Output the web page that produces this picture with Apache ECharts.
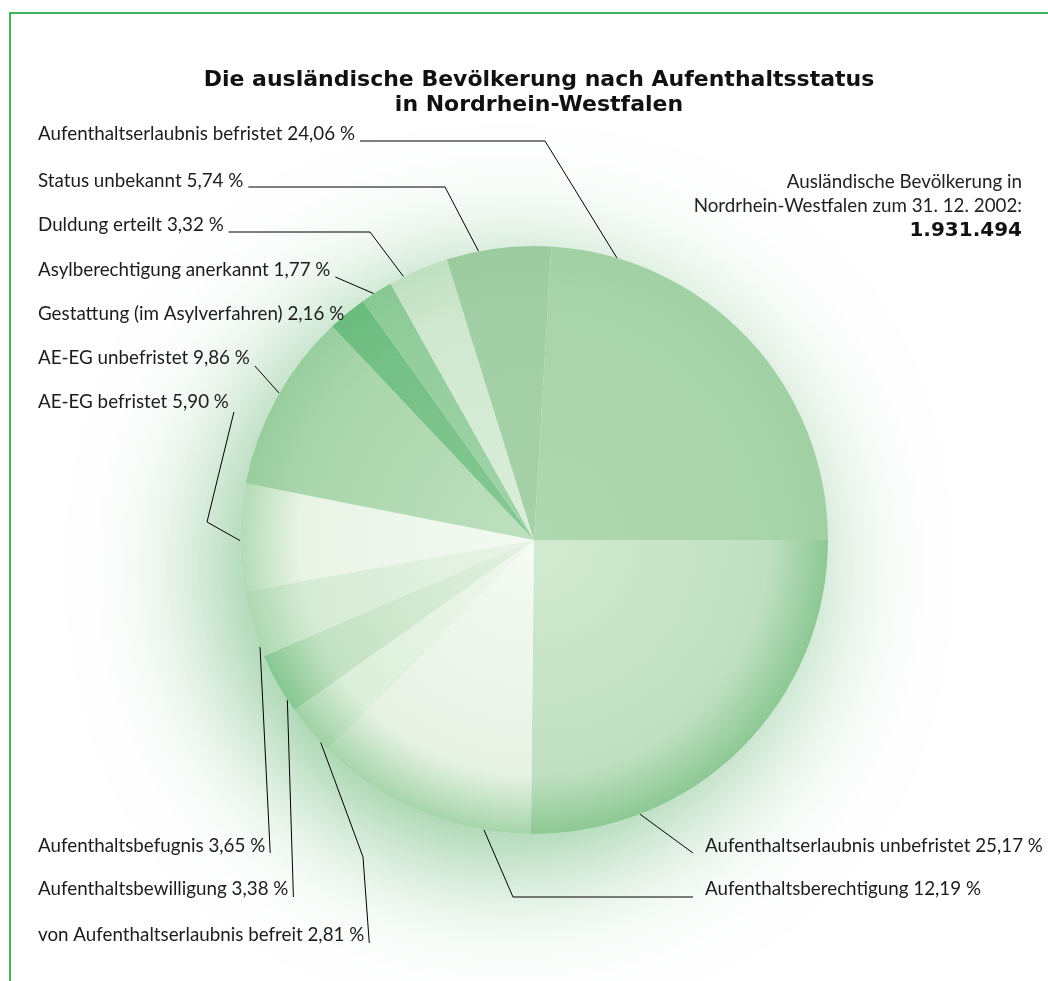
<!DOCTYPE html>
<html><head><meta charset="utf-8">
<script src="https://cdn.jsdelivr.net/npm/echarts@6/dist/echarts.min.js"></script>
<style>html,body{margin:0;padding:0;background:#fff}#c{width:1048px;height:981px}</style>
</head><body><div id="c"></div>
<script>
// ---- data ----
const categories = [
  'Aufenthaltserlaubnis unbefristet',
  'Aufenthaltsberechtigung',
  'von Aufenthaltserlaubnis befreit',
  'Aufenthaltsbewilligung',
  'Aufenthaltsbefugnis',
  'AE-EG befristet',
  'AE-EG unbefristet',
  'Gestattung (im Asylverfahren)',
  'Asylberechtigung anerkannt',
  'Duldung erteilt',
  'Status unbekannt',
  'Aufenthaltserlaubnis befristet'
];
const values = [25.17, 12.19, 2.81, 3.38, 3.65, 5.90, 9.86, 2.16, 1.77, 3.32, 5.74, 24.06];
const valueLabels = ['25,17 %','12,19 %','2,81 %','3,38 %','3,65 %','5,90 %','9,86 %','2,16 %','1,77 %','3,32 %','5,74 %','24,06 %'];
const titleLines = ['Die ausländische Bevölkerung nach Aufenthaltsstatus', 'in Nordrhein-Westfalen'];
const noteLines = ['Ausländische Bevölkerung in', 'Nordrhein-Westfalen zum 31. 12. 2002:'];
const noteTotal = '1.931.494';

// ---- styles / layout ----
const CX = 534, CY = 540, R = 294;
const sliceColors = [
  ['#d2ead1', '#c0e0c1', '#8dc894'],
  ['#f6fbf4', '#e6f2e4', '#a6d5aa'],
  ['#f0f8ee', '#dcefda', '#9fd1a4'],
  ['#e4f2e2', '#c3e2c3', '#86c791'],
  ['#eaf5e8', '#d6ebd5', '#acd8b0'],
  ['#f4faf2', '#e8f4e6', '#b4dbb6'],
  ['#bfe0bf', '#a9d6ab', '#98cd9e'],
  ['#86c894', '#74c086', '#6abb7e'],
  ['#a2d4a9', '#92cd9c', '#88c893'],
  ['#dbeeda', '#cfe7cf', '#c0e0c1'],
  ['#a6d1a8', '#a1cea4', '#9ccb9f'],
  ['#aed8b0', '#a8d4aa', '#a1d0a4']
];
// label placement: x,y = text anchor (left / middle); dy = leader line level; t = position inside slice for leader end
const labelPlace = [
  {x: 705, y: 846, side: 'R', dy: 7, t: 0.76, elbow: null},
  {x: 705, y: 889, side: 'R', dy: 8, t: 0.21, elbow: [513, 897]},
  {x: 38, y: 935, side: 'L', dy: 8, t: 0.2, elbow: [363, 857]},
  {x: 38, y: 889, side: 'L', dy: 8, t: 0.2, elbow: null},
  {x: 38, y: 846, side: 'L', dy: 7, t: 0.15, elbow: null},
  {x: 38, y: 402, side: 'L', dy: 10, t: 0.47, elbow: [207, 522]},
  {x: 38, y: 358, side: 'L', dy: 8, t: 0.53, elbow: null},
  {x: 38, y: 314, side: 'L', dy: 6, t: 0.4, elbow: null},
  {x: 38, y: 270, side: 'L', dy: 7, t: 0.4, elbow: null},
  {x: 38, y: 225, side: 'L', dy: 7, t: 0.24, elbow: [370, 232]},
  {x: 38, y: 181, side: 'L', dy: 6, t: 0.31, elbow: [445, 187]},
  {x: 38, y: 134, side: 'L', dy: 7, t: 0.15, elbow: [545, 141]}
];
const FONT = 'Lato';
const FS = 18.8;
const TFONT = '"DejaVu Sans"';

const total = values.reduce((a, b) => a + b, 0);
const cumBefore = values.map((v, i) => values.slice(0, i).reduce((a, b) => a + b, 0));

function edgePoint(i) {
  const frac = (cumBefore[i] + labelPlace[i].t * values[i]) / total;
  const a = frac * 2 * Math.PI; // clockwise from 3 o'clock
  return [CX + R * Math.cos(a), CY + R * Math.sin(a)];
}

const pieData = categories.map((c, i) => ({
  name: c,
  value: values[i],
  itemStyle: {
    color: {
      type: 'radial', x: CX, y: CY, r: R, global: true,
      colorStops: [
        {offset: 0, color: sliceColors[i][0]},
        {offset: 0.8, color: sliceColors[i][1]},
        {offset: 1, color: sliceColors[i][2]}
      ]
    }
  },
  label: {formatter: c + ' ' + valueLabels[i]}
}));

const chart = echarts.init(document.getElementById('c'), null, {renderer: 'canvas'});
chart.setOption({
  animation: false,
  backgroundColor: '#ffffff',
  title: [
    {text: titleLines.join('\n'), left: 534, top: 63, textAlign: 'center',
     textStyle: {fontFamily: TFONT, fontWeight: 'bold', fontSize: 22, lineHeight: 25, color: '#111'}}
  ],
  graphic: [
    {type: 'polyline', silent: true, shape: {points: [[10, 981], [10, 13], [1048, 13]]},
     style: {stroke: '#3fb45c', lineWidth: 2, fill: null}},
    {type: 'text', silent: true, x: 1022, y: 182,
     style: {text: noteLines[0], align: 'right', verticalAlign: 'middle', font: FS + 'px ' + FONT, fill: '#222'}},
    {type: 'text', silent: true, x: 1022, y: 206,
     style: {text: noteLines[1], align: 'right', verticalAlign: 'middle', font: FS + 'px ' + FONT, fill: '#222'}},
    {type: 'text', silent: true, x: 1022, y: 231,
     style: {text: noteTotal, align: 'right', verticalAlign: 'middle', font: 'bold 20px ' + TFONT, fill: '#111'}}
  ],
  series: [
    {
      type: 'pie', silent: true, z: 1,
      center: [CX, CY], radius: R,
      label: {show: false}, labelLine: {show: false},
      itemStyle: {color: '#e9f5e8', shadowBlur: 130, shadowColor: 'rgba(90,175,105,0.7)', shadowOffsetX: -24, shadowOffsetY: 28},
      data: [{value: 1, name: ''}]
    },
    {
      type: 'pie', z: 2,
      center: [CX, CY], radius: R,
      startAngle: 0, clockwise: true,
      avoidLabelOverlap: false,
      data: pieData,
      label: {show: true, position: 'outside', fontFamily: FONT, fontSize: FS, color: '#1c1c1c'},
      labelLine: {show: true, smooth: false, lineStyle: {color: '#000', width: 1}},
      labelLayout: function (p) {
        const i = p.dataIndex;
        const L = labelPlace[i];
        const w = p.labelRect.width;
        const e = edgePoint(i);
        let end;
        if (L.side === 'L') end = [L.x + w + 5, L.y + L.dy];
        else end = [L.x - 12, L.y + L.dy];
        const mid = L.elbow ? L.elbow : end;
        return {x: L.x, y: L.y, align: 'left', verticalAlign: 'middle', labelLinePoints: [e, mid, end]};
      }
    }
  ]
});
</script>
</body></html>
